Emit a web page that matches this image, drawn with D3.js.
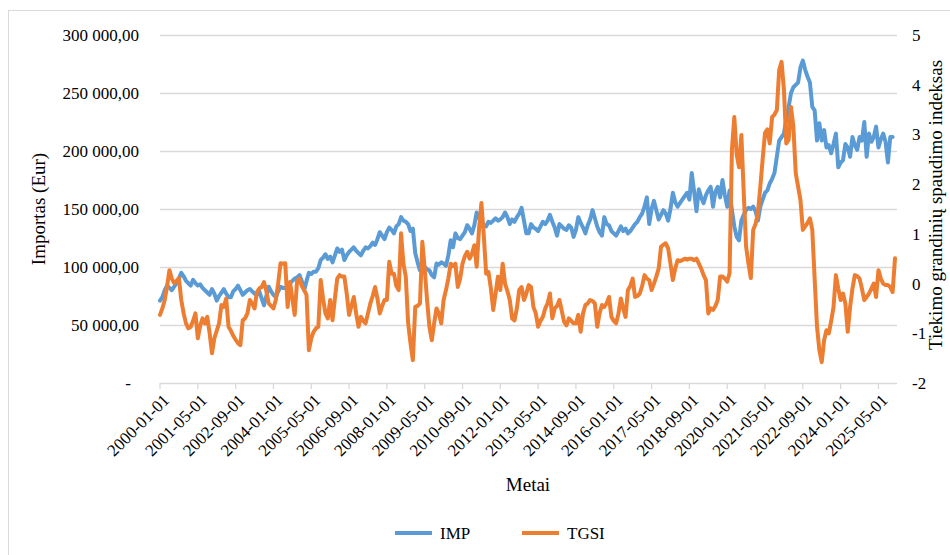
<!DOCTYPE html>
<html><head><meta charset="utf-8">
<script src="https://cdn.jsdelivr.net/npm/d3@7"></script>
<style>
html,body{margin:0;padding:0;background:#fff;}
svg{display:block;}
text{font-family:"Liberation Serif","Times New Roman",serif;fill:#000;}
</style></head>
<body>
<svg id="chart" width="950" height="555"></svg>
<script>
// ---- DATA ----
const startYear = 2000, nMonths = 312;
const categories = d3.range(nMonths).map(i => {
  const y = startYear + Math.floor(i / 12), m = i % 12 + 1;
  return y + "-" + String(m).padStart(2, "0") + "-01";
});
const tickLabels = ["2000-01-01","2001-05-01","2002-09-01","2004-01-01","2005-05-01","2006-09-01",
  "2008-01-01","2009-05-01","2010-09-01","2012-01-01","2013-05-01","2014-09-01","2016-01-01",
  "2017-05-01","2018-09-01","2020-01-01","2021-05-01","2022-09-01","2024-01-01","2025-05-01"];
const leftTicks = [0, 50000, 100000, 150000, 200000, 250000, 300000];
const rightTicks = [-2, -1, 0, 1, 2, 3, 4, 5];

// IMP, thousands of EUR (monthly)
const impK = [
  71,74,80,84,82,80,83,86,90,95,92,88,
  86,84,89,86,84,85,82,80,78,76,81,77,
  71,75,78,81,77,74,74,79,81,84,80,76,
  78,80,81,79,77,76,79,73,67,75,83,79,
  76,74,79,83,82,82,84,86,88,90,91,93,
  88,80,88,95,94,96,96,99,106,108,111,107,
  109,104,110,116,113,115,106,110,113,115,117,114,
  112,110,114,117,116,118,121,119,124,130,127,124,
  130,134,132,129,135,137,143,140,139,137,131,133,
  112,104,97,99,100,98,97,93,91,103,102,104,
  103,101,110,123,117,129,125,124,127,130,136,133,
  129,136,147,142,140,136,135,139,138,140,142,140,
  141,143,147,143,137,141,139,143,146,151,140,129,
  129,137,134,133,131,135,139,137,140,145,139,134,
  127,137,135,133,132,136,134,126,132,143,138,134,
  129,136,141,149,142,135,130,127,143,137,136,131,
  129,127,131,135,131,133,129,131,134,137,139,143,
  146,152,160,137,150,157,149,141,145,149,146,140,
  150,164,156,152,155,158,161,164,158,181,165,148,
  167,160,155,162,166,169,152,165,169,160,175,162,
  152,166,149,135,126,123,140,145,149,151,150,152,
  148,140,152,158,164,166,172,176,181,195,209,212,
  215,227,238,250,255,257,259,272,278,270,264,259,
  238,235,209,224,209,218,203,205,198,206,215,186,
  190,192,206,203,195,212,205,201,212,209,225,195,
  215,208,212,221,203,210,215,208,190,212,212,null
];
const IMP = impK.map(v => v == null ? null : v * 1000);

// TGSI index (monthly)
const TGSI = [
  -0.63,-0.5,-0.33,-0.05,0.27,0.1,0.01,0.05,0.11,-0.33,-0.6,-0.8,
  -0.9,-0.87,-0.75,-0.6,-1.1,-0.85,-0.7,-0.8,-0.67,-1.0,-1.4,-1.1,
  -0.95,-0.8,-0.43,-0.47,-0.3,-0.87,-0.95,-1.05,-1.13,-1.2,-1.24,-0.74,
  -0.7,-0.6,-0.33,-0.4,-0.5,-0.17,-0.1,-0.07,0.03,-0.15,-0.4,-0.45,
  -0.5,-0.33,0.0,0.41,0.4,0.41,-0.47,0.03,-0.3,-0.63,0.05,0.1,
  -0.05,-0.13,-0.23,-1.34,-1.1,-0.97,-0.9,-0.87,0.07,-0.3,-0.6,-0.7,
  -0.33,-0.74,-0.3,0.1,0.17,0.14,0.14,-0.2,-0.63,-0.45,-0.27,-0.6,
  -0.87,-0.67,-0.75,-0.8,-0.6,-0.4,-0.25,-0.07,-0.3,-0.6,-0.45,-0.33,
  -0.33,0.44,0.2,0.2,-0.05,-0.13,1.01,0.4,0.14,-0.8,-1.2,-1.54,
  -0.47,-0.45,-0.4,0.84,0.3,-0.33,-0.87,-1.14,-0.8,-0.5,-0.6,-0.8,
  -0.33,-0.13,0.1,0.4,0.35,0.4,-0.07,0.1,0.4,0.55,0.64,0.5,
  0.6,0.77,0.34,1.1,1.62,0.97,0.2,0.23,-0.1,-0.53,-0.2,0.14,
  -0.13,0.4,0.0,-0.15,-0.33,-0.7,-0.74,-0.5,-0.13,-0.07,-0.33,-0.2,
  -0.03,-0.07,-0.47,-0.6,-0.87,-0.75,-0.67,-0.5,-0.4,-0.2,-0.7,-0.5,
  -0.45,-0.33,-0.55,-0.77,-0.84,-0.7,-0.75,-0.8,-0.8,-0.63,-0.97,-0.6,
  -0.43,-0.4,-0.33,-0.35,-0.4,-0.87,-0.6,-0.43,-0.47,-0.4,-0.27,-0.67,
  -0.75,-0.8,-0.6,-0.3,-0.5,-0.67,-0.13,-0.05,0.1,-0.27,-0.25,-0.2,
  -0.05,0.17,0.1,0.07,-0.13,0.0,0.14,0.3,0.74,0.78,0.81,0.71,
  0.4,0.07,0.3,0.47,0.45,0.47,0.5,0.48,0.5,0.5,0.47,0.5,
  0.4,0.3,0.17,0.07,-0.6,-0.5,-0.53,-0.45,-0.33,0.14,0.14,0.1,
  0.04,0.21,2.69,3.35,2.6,2.34,2.99,1.82,0.74,0.4,0.11,1.08,
  1.2,1.42,1.94,2.5,3.03,3.1,2.82,3.35,3.4,3.49,4.3,4.46,
  3.9,2.82,2.89,3.55,3.15,2.22,1.95,1.68,1.08,1.15,1.22,1.31,
  1.08,0.1,-0.87,-1.34,-1.58,-1.14,-0.94,-1.0,-0.75,-0.47,0.17,-0.1,
  -0.33,-0.2,-0.4,-0.97,-0.47,-0.1,0.17,0.15,0.1,-0.1,-0.33,-0.27,
  -0.2,-0.1,0.0,-0.27,0.27,0.1,0.0,-0.03,-0.03,-0.07,-0.17,0.51
];

// ---- CHART ----
const svg = d3.select("#chart");
const plotL = 160, plotR = 897, plotT = 35, plotB = 383;
const x = d3.scalePoint().domain(categories).range([plotL, 895]);
const yL = d3.scaleLinear().domain([0, 300000]).range([plotB, plotT]);
const yR = d3.scaleLinear().domain([-2, 5]).range([plotB, plotT]);
const grid = "#d9d9d9";

// outer border
svg.append("rect").attr("x", 8.5).attr("y", 10.5).attr("width", 960).attr("height", 560)
  .attr("fill", "none").attr("stroke", "#d9d9d9").attr("stroke-width", 1);

// gridlines
svg.append("g").selectAll("line").data(leftTicks.filter(d => d > 0)).join("line")
  .attr("x1", plotL).attr("x2", plotR)
  .attr("y1", d => Math.round(yL(d)) + 0.5).attr("y2", d => Math.round(yL(d)) + 0.5)
  .attr("stroke", grid).attr("stroke-width", 1.3);

// left axis labels
const fmt = v => v === 0 ? "-" : d3.format(",.2f")(v).replace(/,/g, " ").replace(".", ",");
svg.append("g").selectAll("text").data(leftTicks).join("text")
  .attr("x", d => d === 0 ? 131 : 139).attr("y", d => yL(d)).attr("dy", "0.35em")
  .attr("text-anchor", "end").attr("font-size", 17)
  .text(fmt);

// right axis labels
svg.append("g").selectAll("text").data(rightTicks).join("text")
  .attr("x", 912).attr("y", d => yR(d)).attr("dy", "0.35em")
  .attr("text-anchor", "start").attr("font-size", 17)
  .text(d => d);

// x axis line + ticks
svg.append("line").attr("x1", plotL).attr("x2", plotR)
  .attr("y1", plotB + 0.5).attr("y2", plotB + 0.5).attr("stroke", grid).attr("stroke-width", 1.3);
svg.append("g").selectAll("line").data(tickLabels).join("line")
  .attr("x1", d => x(d)).attr("x2", d => x(d))
  .attr("y1", plotB).attr("y2", plotB + 6).attr("stroke", grid).attr("stroke-width", 1.3);
svg.append("g").selectAll("text").data(tickLabels).join("text")
  .attr("transform", d => `translate(${x(d) + 6},${plotB + 14}) rotate(-45)`)
  .attr("text-anchor", "end").attr("dy", "0.35em").attr("font-size", 17)
  .text(d => d);

// lines
const lineL = d3.line().defined(d => d[1] != null).x(d => x(d[0])).y(d => yL(d[1]));
const lineR = d3.line().defined(d => d[1] != null).x(d => x(d[0])).y(d => yR(d[1]));
svg.append("path").datum(categories.map((c, i) => [c, IMP[i]]))
  .attr("d", lineL).attr("fill", "none").attr("stroke", "#5B9BD5")
  .attr("stroke-width", 4).attr("stroke-linejoin", "round").attr("stroke-linecap", "round");
svg.append("path").datum(categories.map((c, i) => [c, TGSI[i]]))
  .attr("d", lineR).attr("fill", "none").attr("stroke", "#ED7D31")
  .attr("stroke-width", 4).attr("stroke-linejoin", "round").attr("stroke-linecap", "round");

// axis titles
svg.append("text").attr("x", 528).attr("y", 491).attr("text-anchor", "middle")
  .attr("font-size", 19).text("Metai");
svg.append("text").attr("transform", "translate(45,209) rotate(-90)")
  .attr("text-anchor", "middle").attr("font-size", 19).text("Importas (Eur)");
svg.append("text").attr("transform", "translate(942,205) rotate(-90)")
  .attr("text-anchor", "middle").attr("font-size", 19).text("Tiekimo grandinių spaudimo indeksas");

// legend
const legend = [{name: "IMP", color: "#5B9BD5", x: 395}, {name: "TGSI", color: "#ED7D31", x: 522}];
const lg = svg.append("g").selectAll("g").data(legend).join("g");
lg.append("line").attr("x1", d => d.x).attr("x2", d => d.x + 37)
  .attr("y1", 533).attr("y2", 533).attr("stroke", d => d.color).attr("stroke-width", 4);
lg.append("text").attr("x", d => d.x + 45).attr("y", 533).attr("dy", "0.35em")
  .attr("font-size", 17).text(d => d.name);
</script>
</body></html>
